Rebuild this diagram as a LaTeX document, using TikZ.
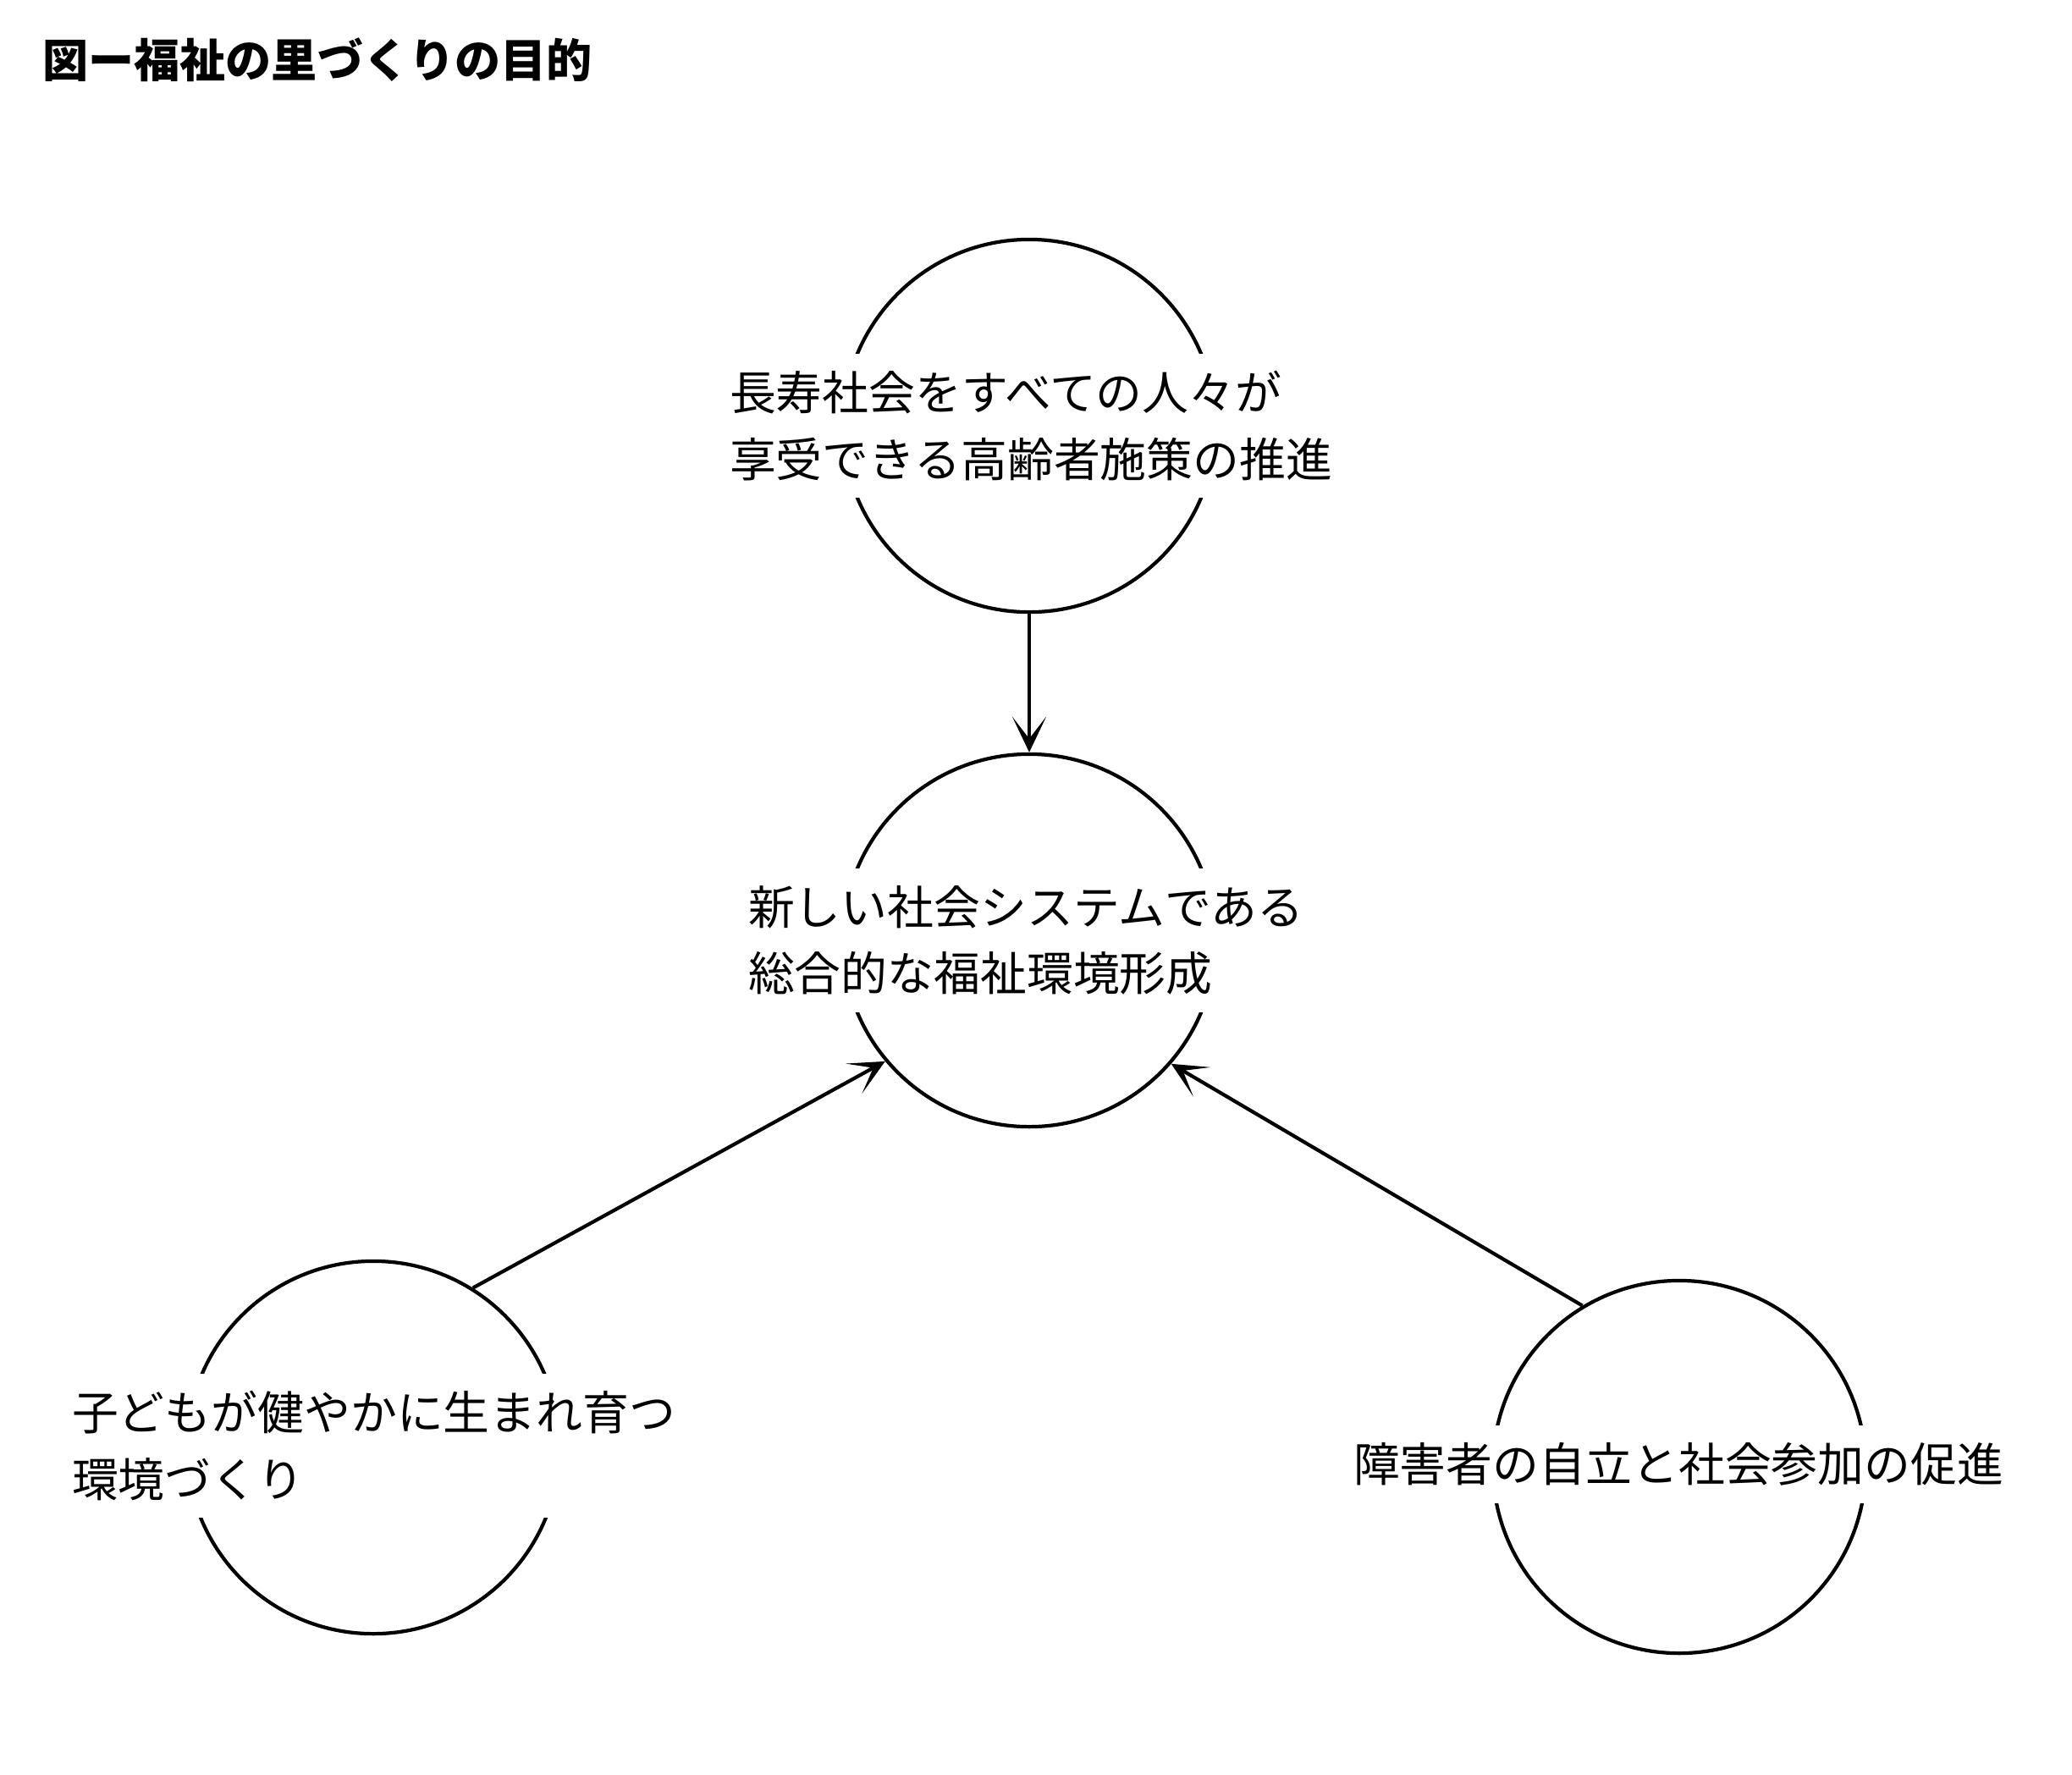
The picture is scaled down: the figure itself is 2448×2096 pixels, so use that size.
\documentclass[tikz,border=0pt]{standalone}
\usepackage{fontspec}
\setmainfont{Noto Sans CJK JP}
\usetikzlibrary{arrows.meta}

\begin{document}
\begin{tikzpicture}[x=0.01cm, y=-0.01cm, line width=1.2pt,
        ring/.style={circle, draw, inner sep=0pt, minimum size=4.4cm},
        lbl/.style={fill=white, inner sep=0pt, anchor=west, align=left,
                        minimum height=1.7cm,
                        font=\fontsize{15.6pt}{22.3pt}\selectfont},
        arr/.style={-{Stealth[length=0.42cm, width=0.40cm, inset=0.26cm]}}]
    \useasboundingbox (0,0) rectangle (2448,2096);

    \node[anchor=west, inner sep=0pt, font=\fontsize{15.4pt}{18pt}\selectfont\bfseries]
        (title) at (48,71) {図ー福祉の里づくりの目的};

    \node[ring] (elder) at (1216,503) {};
    \node[ring] (goal)  at (1216,1111) {};
    \node[ring] (child) at (441,1710) {};
    \node[ring] (disab) at (1984,1733) {};

    \node[lbl] (elderlbl) at (860,503)
        {長寿社会をすべての人々が\\享受できる高齢者施策の推進};
    \node[lbl] (goallbl) at (882,1111)
        {新しい社会システムである\\総合的な福祉環境形成};
    \node[lbl] (childlbl) at (83,1708)
        {子どもが健やかに生まれ育つ\\環境づくり};
    \node[lbl, minimum height=0.92cm] (disablbl) at (1597,1730)
        {障害者の自立と社会参加の促進};

    \draw[arr] (elder.south) -- (goal.north);
    \draw[arr] (child.58) -- (goal.220);
    \draw[arr] (disab.121) -- (goal.-41);
\end{tikzpicture}
\end{document}
